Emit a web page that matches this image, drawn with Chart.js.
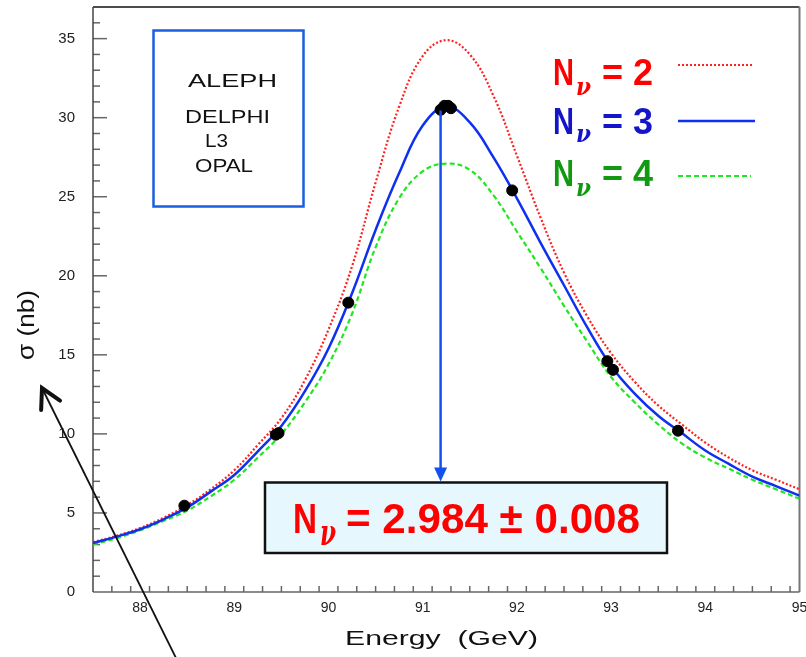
<!DOCTYPE html>
<html>
<head>
<meta charset="utf-8">
<script src="https://cdn.jsdelivr.net/npm/chart.js@4.4.1/dist/chart.umd.min.js"></script>
<style>
  html, body { margin: 0; padding: 0; background: #fff; }
  #wrap { width: 806px; height: 657px; }
</style>
</head>
<body>
<div id="wrap"><canvas id="zChart" width="806" height="657"></canvas></div>
<script>
// ===== data =====
const ENERGY = [87.5, 87.75, 88.0, 88.25, 88.5, 88.75, 89.0, 89.25, 89.5, 89.75,
                90.0, 90.25, 90.5, 90.75, 91.0, 91.25, 91.5, 91.75, 92.0, 92.25,
                92.5, 92.75, 93.0, 93.25, 93.5, 93.75, 94.0, 94.25, 94.5, 94.75, 95.0];
// N_nu = 2 (red, dotted)
const SIGMA_N2 = [3.15, 3.55, 4.05, 4.7, 5.5, 6.5, 7.7, 9.3, 11.0, 13.4,
                  16.6, 20.6, 25.9, 30.7, 33.9, 34.9, 34.0, 31.4, 27.6, 23.7,
                  20.2, 17.4, 15.1, 13.3, 11.8, 10.6, 9.45, 8.5, 7.7, 7.1, 6.5];
// N_nu = 3 (blue, solid)
const SIGMA_N3 = [3.1, 3.5, 3.97, 4.6, 5.35, 6.35, 7.4, 8.9, 10.5, 12.7,
                  15.4, 18.9, 22.9, 26.5, 29.5, 30.7, 29.7, 27.5, 24.9, 22.1,
                  19.4, 16.7, 14.3, 12.55, 11.15, 10.05, 8.95, 8.1, 7.3, 6.7, 6.1];
// N_nu = 4 (green, dashed)
const SIGMA_N4 = [3.0, 3.4, 3.9, 4.5, 5.15, 6.05, 7.1, 8.5, 10.0, 12.0,
                  14.4, 17.6, 21.8, 24.9, 26.6, 27.1, 26.7, 25.1, 22.8, 20.5,
                  18.1, 15.8, 13.6, 12.0, 10.6, 9.4, 8.5, 7.8, 7.1, 6.5, 5.9];
// LEP measurements
const MEAS_E     = [88.47, 89.44, 89.47, 90.21, 91.19, 91.23, 91.27, 91.30, 91.95, 92.96, 93.02, 93.71];
const MEAS_SIGMA = [5.46, 9.95, 10.05, 18.3, 30.5, 30.75, 30.75, 30.6, 25.4, 14.6, 14.05, 10.2];

const X_TICKS = [88, 89, 90, 91, 92, 93, 94, 95];
const Y_TICKS = [0, 5, 10, 15, 20, 25, 30, 35];
const EXPERIMENTS = ['ALEPH', 'DELPHI', 'L3', 'OPAL'];
const RESULT = '= 2.984 \u00b1 0.008';
const PEAK = { e: 91.19, s: 30.45 };

const FONT = '"Liberation Sans", Arial, sans-serif';
const NU_FONT = '"DejaVu Serif", serif';

function pts(ys) { return ENERGY.map((e, i) => ({ x: e, y: ys[i] })); }

// text drawn from left/baseline, optionally squeezed to a width and stretched vertically
function txt(ctx, s, x, y, font, color, w, sy) {
    ctx.save();
    ctx.font = font;
    ctx.fillStyle = color;
    ctx.textAlign = 'left';
    ctx.textBaseline = 'alphabetic';
    const sx = w ? w / ctx.measureText(s).width : 1;
    ctx.translate(x, y);
    ctx.scale(sx, sy || 1);
    ctx.fillText(s, 0, 0);
    ctx.restore();
}

function seg(ctx, x1, y1, x2, y2, color, lw, dash) {
    ctx.save();
    ctx.strokeStyle = color;
    ctx.lineWidth = lw;
    ctx.setLineDash(dash || []);
    ctx.beginPath();
    ctx.moveTo(x1, y1);
    ctx.lineTo(x2, y2);
    ctx.stroke();
    ctx.restore();
}

// ===== frame + inward ticks =====
const framePlugin = {
    id: 'frame',
    beforeDatasetsDraw(chart) {
        const { ctx, chartArea: a, scales: { x, y } } = chart;
        for (let v = 1; v <= 36; v++) {
            const py = y.getPixelForValue(v);
            const len = v % 5 === 0 ? 14 : 7;
            seg(ctx, a.left, py, a.left + len, py, '#666', 1.5);
        }
        for (let k = 1; k < 38; k++) {
            const v = 87.5 + k * 0.2;
            const px = x.getPixelForValue(v);
            const major = Math.abs(v - Math.round(v)) < 1e-6;
            seg(ctx, px, a.bottom, px, a.bottom - (major ? 10 : 6), '#666', 1.5);
        }
        seg(ctx, a.left, a.top, a.right, a.top, '#111', 1.5);
        seg(ctx, a.right, a.top, a.right, a.bottom, '#777', 2);
        seg(ctx, a.left, a.bottom, a.right, a.bottom, '#666', 1.5);
        seg(ctx, a.left, a.top, a.left, a.bottom, '#444', 1.5);
    }
};

// ===== annotations, legend, titles =====
const overlayPlugin = {
    id: 'overlay',
    afterDraw(chart) {
        const { ctx, scales: { x, y } } = chart;

        // axis titles
        txt(ctx, 'Energy  (GeV)', 345, 645, '20px ' + FONT, '#111', 193);
        ctx.save();
        ctx.translate(27, 325);
        ctx.rotate(-Math.PI / 2);
        ctx.font = '24px ' + FONT;
        const yw = ctx.measureText('\u03c3 (nb)').width;
        ctx.scale(70 / yw, 1);
        ctx.fillStyle = '#111';
        ctx.textAlign = 'center';
        ctx.textBaseline = 'middle';
        ctx.fillText('\u03c3 (nb)', 0, 0);
        ctx.restore();

        // experiments box
        ctx.save();
        ctx.strokeStyle = '#1a5fe0';
        ctx.lineWidth = 2.5;
        ctx.strokeRect(153.5, 30.5, 150, 176);
        ctx.restore();
        const expPos = [[188, 87, 89], [185, 123, 85], [205, 147, 23], [195, 172, 58]];
        EXPERIMENTS.forEach((n, i) => txt(ctx, n, expPos[i][0], expPos[i][1], '19px ' + FONT, '#111', expPos[i][2]));

        // legend
        const rows = [
            { n: '2', color: '#ff0000', line: '#ff2020', dash: [2, 2], lw: 2, base: 85, sub: 95, ly: 65, x2: 753 },
            { n: '3', color: '#1414c8', line: '#1030f0', dash: [], lw: 2.5, base: 134, sub: 142, ly: 121, x2: 755 },
            { n: '4', color: '#119a11', line: '#22e622', dash: [5, 3], lw: 2, base: 186, sub: 196, ly: 176, x2: 751 }
        ];
        rows.forEach(r => {
            txt(ctx, 'N', 553, r.base, 'bold 36px ' + FONT, r.color, 21);
            txt(ctx, '\u03bd', 576, r.sub, 'bold italic 24px ' + NU_FONT, r.color, 15);
            txt(ctx, '= ' + r.n, 602, r.base, 'bold 36px ' + FONT, r.color);
            seg(ctx, 678, r.ly, r.x2, r.ly, r.line, r.lw, r.dash);
        });

        // result box
        const boxTop = 482.5;
        ctx.save();
        ctx.fillStyle = '#e6f7fd';
        ctx.fillRect(265, boxTop, 402, 70.5);
        ctx.strokeStyle = '#111';
        ctx.lineWidth = 2.5;
        ctx.strokeRect(265, boxTop, 402, 70.5);
        ctx.restore();
        txt(ctx, 'N', 293, 533, 'bold 42px ' + FONT, '#ff0000', 24);
        txt(ctx, '\u03bd', 320, 545, 'bold italic 26px ' + NU_FONT, '#ff0000', 16, 1.4);
        txt(ctx, RESULT, 346, 533, 'bold 42px ' + FONT, '#ff0000', 294);

        // blue arrow from the peak down to the result
        const ax = x.getPixelForValue(PEAK.e);
        const ay = y.getPixelForValue(PEAK.s);
        seg(ctx, ax, ay, ax, boxTop - 12, '#1450f0', 2.5);
        ctx.save();
        ctx.fillStyle = '#1450f0';
        ctx.beginPath();
        ctx.moveTo(ax - 6.5, boxTop - 15);
        ctx.lineTo(ax + 6.5, boxTop - 15);
        ctx.lineTo(ax, boxTop - 1);
        ctx.closePath();
        ctx.fill();
        ctx.restore();

        // black pointer arrow
        const tx = 42, ty = 388, bx = 177, by = 660;
        seg(ctx, bx, by, tx, ty, '#111', 1.8);
        const ang = Math.atan2(by - ty, bx - tx);
        ctx.save();
        ctx.strokeStyle = '#111';
        ctx.lineWidth = 4;
        ctx.lineCap = 'round';
        ctx.beginPath();
        ctx.moveTo(tx + 22 * Math.cos(ang - 0.5), ty + 22 * Math.sin(ang - 0.5));
        ctx.lineTo(tx, ty);
        ctx.lineTo(tx + 22 * Math.cos(ang + 0.5), ty + 22 * Math.sin(ang + 0.5));
        ctx.stroke();
        ctx.restore();
    }
};

document.addEventListener('DOMContentLoaded', function() {
    new Chart(document.getElementById('zChart'), {
        type: 'scatter',
        data: {
            datasets: [
                {
                    label: 'data',
                    data: MEAS_E.map((e, i) => ({ x: e, y: MEAS_SIGMA[i] })),
                    backgroundColor: '#000',
                    borderColor: '#000',
                    pointRadius: 5.5,
                    pointHoverRadius: 5.5,
                    showLine: false
                },
                {
                    label: 'N=3',
                    data: pts(SIGMA_N3),
                    showLine: true,
                    borderColor: '#1030f0',
                    borderWidth: 2.5,
                    pointRadius: 0,
                    tension: 0.4
                },
                {
                    label: 'N=2',
                    data: pts(SIGMA_N2),
                    showLine: true,
                    borderColor: '#ff2020',
                    borderWidth: 2.2,
                    borderDash: [2, 2],
                    pointRadius: 0,
                    tension: 0.4
                },
                {
                    label: 'N=4',
                    data: pts(SIGMA_N4),
                    showLine: true,
                    borderColor: '#22e622',
                    borderWidth: 2.2,
                    borderDash: [5, 3],
                    pointRadius: 0,
                    tension: 0.4
                }
            ]
        },
        options: {
            responsive: false,
            animation: false,
            devicePixelRatio: 1,
            layout: { padding: { top: 7, right: 5, left: 0, bottom: 0 } },
            plugins: { legend: { display: false }, tooltip: { enabled: false } },
            scales: {
                x: {
                    type: 'linear',
                    min: 87.5,
                    max: 95,
                    grid: { display: false, drawTicks: false },
                    border: { display: false },
                    ticks: { color: '#222', font: { size: 14, family: FONT }, padding: 8, maxRotation: 0 },
                    afterBuildTicks: s => { s.ticks = X_TICKS.map(v => ({ value: v })); },
                    afterFit: s => { s.height = 65; s.paddingLeft = 0; s.paddingRight = 0; }
                },
                y: {
                    min: 0,
                    max: 37,
                    grid: { display: false, drawTicks: false },
                    border: { display: false },
                    ticks: { color: '#222', font: { size: 15, family: FONT }, padding: 18 },
                    afterBuildTicks: s => { s.ticks = Y_TICKS.map(v => ({ value: v })); },
                    afterFit: s => { s.width = 93; s.paddingTop = 0; s.paddingBottom = 0; }
                }
            }
        },
        plugins: [framePlugin, overlayPlugin]
    });
});
</script>
</body>
</html>
